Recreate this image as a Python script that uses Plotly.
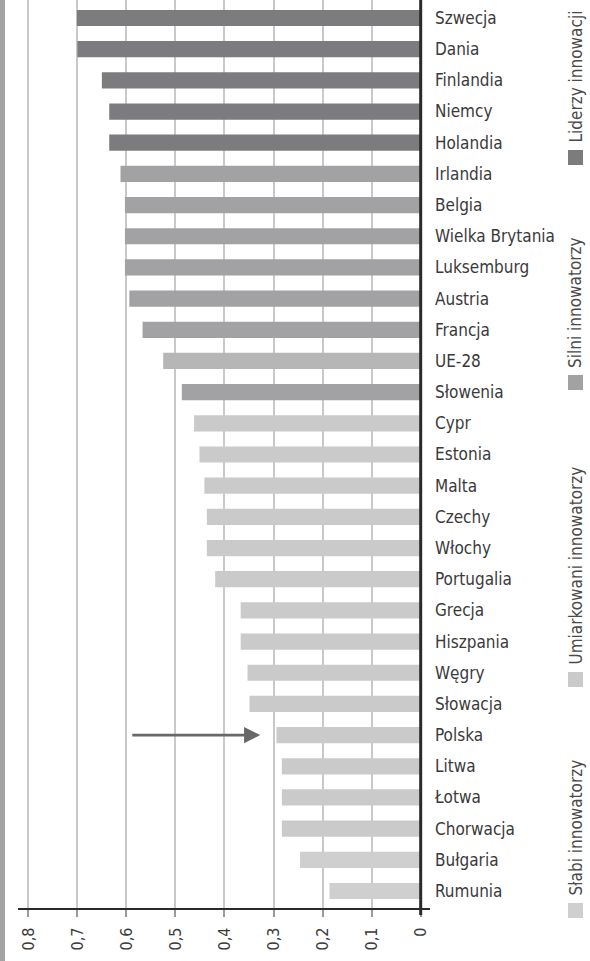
import plotly.graph_objects as go

# Summary innovation index by country, listed top to bottom
countries = [
    "Szwecja", "Dania", "Finlandia", "Niemcy", "Holandia",
    "Irlandia", "Belgia", "Wielka Brytania", "Luksemburg", "Austria",
    "Francja", "UE-28", "Słowenia", "Cypr", "Estonia",
    "Malta", "Czechy", "Włochy", "Portugalia", "Grecja",
    "Hiszpania", "Węgry", "Słowacja", "Polska", "Litwa",
    "Łotwa", "Chorwacja", "Bułgaria", "Rumunia",
]
values = [
    0.701, 0.700, 0.650, 0.635, 0.635,
    0.612, 0.603, 0.603, 0.603, 0.594,
    0.567, 0.525, 0.487, 0.462, 0.451,
    0.441, 0.436, 0.436, 0.419, 0.367,
    0.367, 0.353, 0.349, 0.294, 0.283,
    0.283, 0.283, 0.246, 0.186,
]
groups = (["lider"] * 5 + ["silny"] * 6 + ["ue"] + ["silny"]
          + ["umiark"] * 14 + ["slaby"] * 2)

group_colors = {
    "lider": "#7c7c7e",
    "silny": "#a2a2a4",
    "ue": "#b6b6b7",
    "umiark": "#cacaca",
    "slaby": "#cfcfcf",
}

legend_labels = ["Liderzy innowacji", "Silni innowatorzy",
                 "Umiarkowani innowatorzy", "Słabi innowatorzy"]
legend_keys = ["lider", "silny", "umiark", "slaby"]

tick_vals = [0, 0.1, 0.2, 0.3, 0.4, 0.5, 0.6, 0.7, 0.8]
tick_text = ["0", "0,1", "0,2", "0,3", "0,4", "0,5", "0,6", "0,7", "0,8"]

FONT = "Liberation Sans Narrow, DejaVu Sans Condensed, Roboto, sans-serif"

W, H = 590, 961
ML, MR, MT, MB = 18, 160, 0, 53
plot_w = W - ML - MR
plot_h = H - MT - MB
n = len(countries)

fig = go.Figure()
fig.add_trace(go.Bar(
    x=values,
    y=list(range(n)),
    orientation="h",
    width=0.52,
    marker=dict(color=[group_colors[g] for g in groups], line=dict(width=0)),
    showlegend=False,
    hoverinfo="skip",
))

fig.update_layout(
    width=W, height=H,
    margin=dict(l=ML, r=MR, t=MT, b=MB),
    paper_bgcolor="white", plot_bgcolor="white",
    font=dict(family=FONT, color="#333333", size=15),
    xaxis=dict(
        range=[0.821, -0.019],
        tickvals=tick_vals, ticktext=tick_text,
        tickangle=-90,
        ticks="outside", ticklen=7, tickwidth=1.5, tickcolor="#9a9a9a",
        showgrid=True, gridcolor="#c9c9c9", gridwidth=1.5,
        zeroline=False,
        showline=True, linecolor="#2a2a2a", linewidth=2.2,
        tickfont=dict(size=16, color="#3a3a3a"),
        ticklabelstandoff=4,
        fixedrange=True,
    ),
    yaxis=dict(
        range=[n - 1 + 0.545, -0.577],
        tickvals=list(range(n)), ticktext=countries,
        side="right",
        ticks="", showgrid=False, zeroline=False, showline=False,
        tickfont=dict(size=17, color="#3a3a3a"),
        ticklabelstandoff=4,
        fixedrange=True,
    ),
)

# zero axis: thick dark line running past the baseline
fig.add_shape(type="line", xref="x", yref="paper",
              x0=0, x1=0, y0=-7 / plot_h, y1=1,
              line=dict(color="#2a2a2a", width=3), layer="above")

# grey strip on the far left edge
fig.add_shape(type="rect", xref="paper", yref="paper",
              x0=-ML / plot_w, x1=(5 - ML) / plot_w,
              y0=-MB / plot_h, y1=1,
              fillcolor="#a3a3a3", line=dict(width=0), layer="above")

# arrow pointing at Polska
pl = countries.index("Polska")
fig.add_annotation(
    x=values[pl] + 0.033, y=pl, xref="x", yref="y",
    ax=0.591, ay=pl, axref="x", ayref="y",
    text="", showarrow=True,
    arrowhead=2, arrowsize=1.25, arrowwidth=2.6, arrowcolor="#686868",
)

# rotated legend along the right edge (pixel positions from the top)
legend_square_tops = [150, 375, 672, 903]
sq = 15
lx0 = 568


def px(v):
    return (v - ML) / plot_w


def py(v):
    return (H - MB - v) / plot_h


for label, key, top in zip(legend_labels, legend_keys, legend_square_tops):
    fig.add_shape(type="rect", xref="paper", yref="paper",
                  x0=px(lx0), x1=px(lx0 + sq),
                  y0=py(top + sq), y1=py(top),
                  fillcolor=group_colors[key], line=dict(width=0))
    fig.add_annotation(
        xref="paper", yref="paper",
        x=px(lx0 + sq / 2), y=py(top - 5),
        xanchor="center", yanchor="bottom",
        text=label, textangle=-90, showarrow=False,
        font=dict(size=17, color="#4a4a4a", family=FONT),
    )

fig.write_html("out.html")
